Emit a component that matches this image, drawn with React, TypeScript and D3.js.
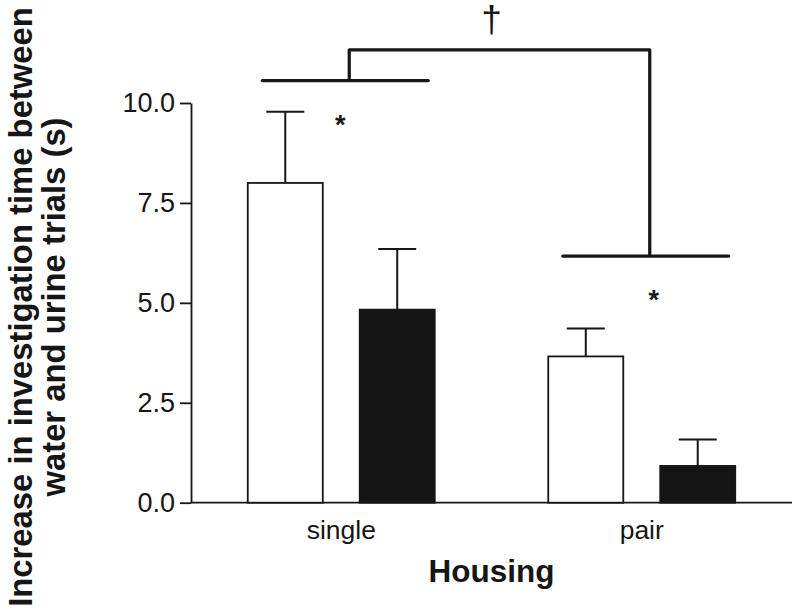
import React, { useEffect, useRef } from 'react';
import * as d3 from 'd3';

const groups = ['single', 'pair'];
const conditions = ['water', 'urine'];
const means = [
  [8.0, 4.83],
  [3.66, 0.92],
];
const sems = [
  [1.78, 1.52],
  [0.7, 0.66],
];
const yTicks = [0, 2.5, 5, 7.5, 10];
const barFills = ['#ffffff', '#141414'];

// significance marks (in data units)
const starLevels = [9.58, 5.19];
const bracketLevels = [10.56, 6.17];
const bridgeLevel = 11.33;

const W = 800;
const H = 614;

const App: React.FC = () => {
  const svgRef = useRef<SVGSVGElement>(null);

  useEffect(() => {
    if (!svgRef.current) return;
    const svg = d3.select(svgRef.current);
    svg.selectAll('*').remove();

    const ink = '#161616';
    const left = 191;
    const right = 792;

    const y = d3.scaleLinear().domain([0, 10]).range([502.7, 103]);
    const x0 = d3.scaleBand<string>().domain(groups).range([left, right]);
    const x1 = d3
      .scaleBand<string>()
      .domain(conditions)
      .range([0, x0.bandwidth()])
      .paddingInner(0.33)
      .paddingOuter(0.507);

    // y axis
    const yAxis = d3
      .axisLeft(y)
      .tickValues(yTicks)
      .tickFormat(d3.format('.1f'))
      .tickSize(11)
      .tickPadding(5)
      .tickSizeOuter(0);
    const ya = svg.append('g').attr('transform', `translate(${left},0)`).call(yAxis);
    ya.select('.domain').attr('stroke', ink).attr('stroke-width', 1.8);
    ya.selectAll('.tick line').attr('stroke', ink).attr('stroke-width', 1.8);
    ya.selectAll('.tick text')
      .attr('fill', ink)
      .style('font-family', 'Liberation Sans, Arial, sans-serif')
      .style('font-size', '27px');

    // x baseline
    svg.append('line')
      .attr('x1', left)
      .attr('x2', right)
      .attr('y1', y(0))
      .attr('y2', y(0))
      .attr('stroke', ink)
      .attr('stroke-width', 1.8);

    // bars + error bars
    groups.forEach((g, gi) => {
      const gx = x0(g)!;
      conditions.forEach((c, ci) => {
        const bx = gx + x1(c)!;
        const bw = x1.bandwidth();
        const m = means[gi][ci];
        const top = m + sems[gi][ci];
        const cx = bx + bw / 2;
        svg.append('line')
          .attr('x1', cx)
          .attr('x2', cx)
          .attr('y1', y(m))
          .attr('y2', y(top))
          .attr('stroke', ink)
          .attr('stroke-width', 2);
        svg.append('line')
          .attr('x1', cx - 19)
          .attr('x2', cx + 19)
          .attr('y1', y(top))
          .attr('y2', y(top))
          .attr('stroke', ink)
          .attr('stroke-width', 2);
        svg.append('rect')
          .attr('x', bx)
          .attr('y', y(m))
          .attr('width', bw)
          .attr('height', y(0) - y(m))
          .attr('fill', barFills[ci])
          .attr('stroke', ink)
          .attr('stroke-width', 1.8);
      });
    });

    // category labels
    svg.selectAll('.cat')
      .data(groups)
      .enter()
      .append('text')
      .attr('x', (d) => x0(d)! + x0.bandwidth() / 2)
      .attr('y', 539)
      .attr('text-anchor', 'middle')
      .attr('fill', ink)
      .style('font-family', 'Liberation Sans, Arial, sans-serif')
      .style('font-size', '26.5px')
      .text((d) => d);

    // asterisks
    const starOffset = [-1, 12];
    groups.forEach((g, gi) => {
      svg.append('text')
        .attr('x', x0(g)! + x0.bandwidth() / 2 + starOffset[gi])
        .attr('y', y(starLevels[gi]) + 14)
        .attr('text-anchor', 'middle')
        .attr('fill', ink)
        .style('font-family', 'Liberation Sans, Arial, sans-serif')
        .style('font-weight', 'bold')
        .style('font-size', '27px')
        .text('*');
    });

    // brackets
    const stems: number[] = [];
    groups.forEach((g, gi) => {
      const c = x0(g)! + x0.bandwidth() / 2;
      const by = y(bracketLevels[gi]);
      svg.append('line')
        .attr('x1', c - 79)
        .attr('x2', c + 87)
        .attr('y1', by)
        .attr('y2', by)
        .attr('stroke', ink)
        .attr('stroke-width', 3.2)
        .attr('stroke-linecap', 'round');
      stems.push(c + 8);
    });
    const path = d3.path();
    path.moveTo(stems[0], y(bracketLevels[0]));
    path.lineTo(stems[0], y(bridgeLevel));
    path.lineTo(stems[1], y(bridgeLevel));
    path.lineTo(stems[1], y(bracketLevels[1]));
    svg.append('path')
      .attr('d', path.toString())
      .attr('fill', 'none')
      .attr('stroke', ink)
      .attr('stroke-width', 3.2)
      .attr('stroke-linejoin', 'round');

    svg.append('text')
      .attr('x', (left + right) / 2)
      .attr('y', 32)
      .attr('text-anchor', 'middle')
      .attr('fill', ink)
      .style('font-family', 'Liberation Sans, Arial, sans-serif')
      .style('font-size', '37px')
      .text('\u2020');

    // axis titles
    svg.append('text')
      .attr('x', (left + right) / 2)
      .attr('y', 582)
      .attr('text-anchor', 'middle')
      .attr('fill', ink)
      .style('font-family', 'Liberation Sans, Arial, sans-serif')
      .style('font-weight', 'bold')
      .style('font-size', '31.5px')
      .text('Housing');

    const yTitle = svg.append('text')
      .attr('transform', 'translate(0,307) rotate(-90)')
      .attr('text-anchor', 'middle')
      .attr('fill', ink)
      .style('font-family', 'Liberation Sans, Arial, sans-serif')
      .style('font-weight', 'bold')
      .style('font-size', '32.8px');
    yTitle.append('tspan').attr('x', 0).attr('y', 32).text('Increase in investigation time between');
    yTitle.append('tspan').attr('x', 0).attr('y', 65).text('water and urine trials (s)');
  }, []);

  return (
    <svg
      ref={svgRef}
      width={W}
      height={H}
      style={{ position: 'absolute', left: 0, top: 0, background: '#fff' }}
    />
  );
};

export default App;
